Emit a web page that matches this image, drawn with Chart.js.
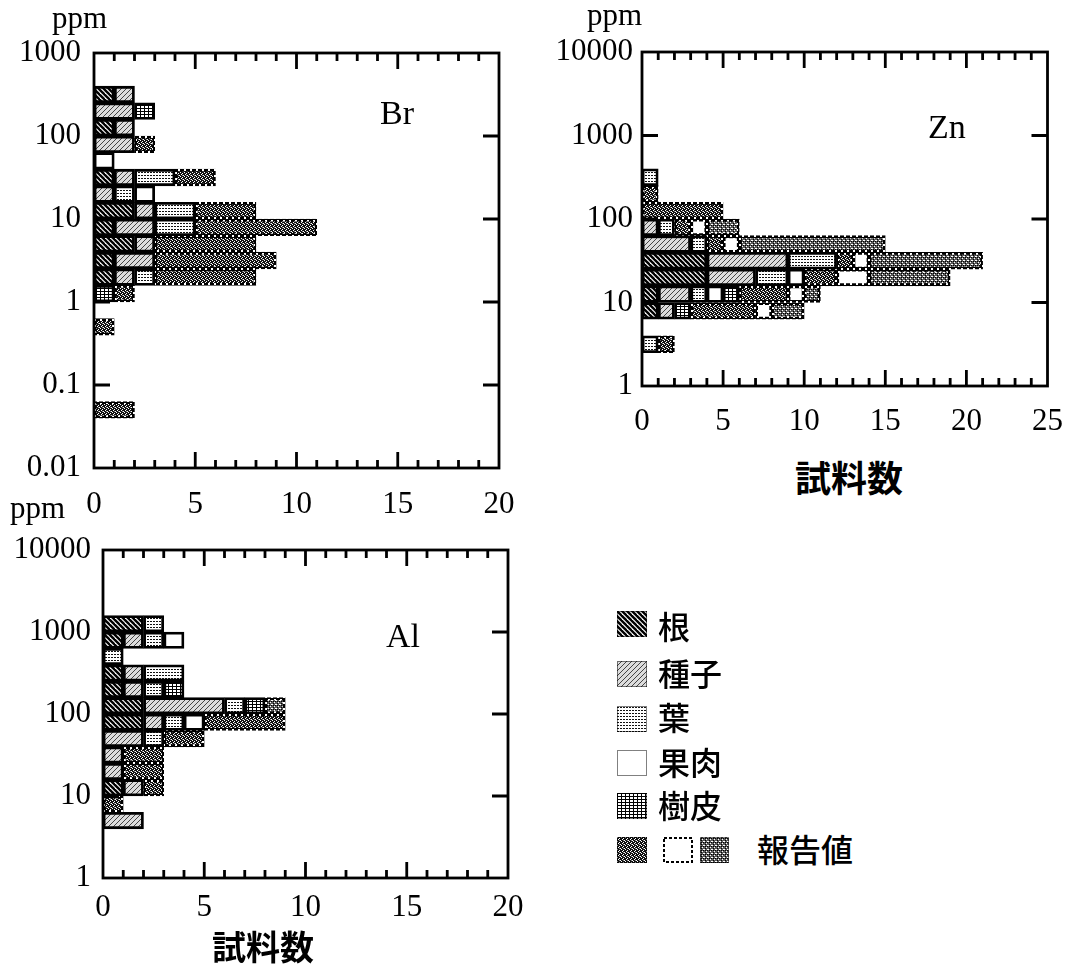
<!DOCTYPE html>
<html>
<head>
<meta charset="utf-8">
<script src="https://cdn.jsdelivr.net/npm/chart.js@4.4.1/dist/chart.umd.min.js"></script>
<style>
  html, body { margin: 0; padding: 0; background: #fff; }
  body { width: 1080px; height: 969px; position: relative; overflow: hidden; }
  canvas { position: absolute; }
  .t { position: absolute; line-height: 1; white-space: nowrap; color: #000; }
  .serif { font-family: "Liberation Serif", "Times New Roman", serif; }
  .jp { font-family: "Noto Sans CJK JP", "Noto Sans CJK SC", sans-serif; }
</style>
</head>
<body>
<canvas id="brChart" width="540" height="530" style="left:0;top:0"></canvas>
<canvas id="znChart" width="540" height="440" style="left:540px;top:0"></canvas>
<canvas id="alChart" width="540" height="440" style="left:0;top:500px"></canvas>

<div class="t serif" style="left:52px;top:2px;font-size:31px">ppm</div>
<div class="t serif" style="left:587px;top:-1px;font-size:31px">ppm</div>
<div class="t serif" style="left:10px;top:492px;font-size:31px">ppm</div>
<div class="t serif" style="left:380px;top:96px;font-size:34px">Br</div>
<div class="t serif" style="left:928px;top:110px;font-size:34px">Zn</div>
<div class="t serif" style="left:386px;top:619px;font-size:34px">Al</div>
<div class="t jp" style="left:795px;top:458px;font-size:36px;font-weight:700">試料数</div>
<div class="t jp" style="left:212px;top:929px;font-size:34px;font-weight:700">試料数</div>

<script>
// kinds of sample, stacked left to right; the last three are the reported values
const kindNames = ["根", "種子", "葉", "果肉", "樹皮", "報告値", "報告値", "報告値"];
const legendLabels = ["根", "種子", "葉", "果肉", "樹皮", "報告値"];

// bin centres as log10(ppm), five bins per decade
const brBins = [2.5, 2.3, 2.1, 1.9, 1.7, 1.5, 1.3, 1.1, 0.9, 0.7, 0.5, 0.3, 0.1, -0.3, -1.3];
const brRoot = [1, 0, 1, 0, 0, 1, 0, 2, 1, 2, 1, 1, 0, 0, 0];
const brSeed = [1, 2, 1, 2, 0, 1, 1, 1, 2, 1, 2, 1, 0, 0, 0];
const brLeaf = [0, 0, 0, 0, 0, 2, 1, 2, 2, 0, 0, 1, 0, 0, 0];
const brPulp = [0, 0, 0, 0, 1, 0, 1, 0, 0, 0, 0, 0, 0, 0, 0];
const brBark = [0, 1, 0, 0, 0, 0, 0, 0, 0, 0, 0, 0, 1, 0, 0];
const brRepA = [0, 0, 0, 1, 0, 2, 0, 3, 6, 5, 6, 5, 1, 1, 2];
const brRepB = [0, 0, 0, 0, 0, 0, 0, 0, 0, 0, 0, 0, 0, 0, 0];
const brRepC = [0, 0, 0, 0, 0, 0, 0, 0, 0, 0, 0, 0, 0, 0, 0];
const brTickLabels = ["0.01", "0.1", "1", "10", "100", "1000"];

const znBins = [2.5, 2.3, 2.1, 1.9, 1.7, 1.5, 1.3, 1.1, 0.9, 0.5];
const znRoot = [0, 0, 0, 0, 0, 4, 4, 1, 1, 0];
const znSeed = [0, 0, 0, 1, 3, 5, 3, 2, 1, 0];
const znLeaf = [1, 0, 0, 1, 1, 3, 2, 1, 0, 1];
const znPulp = [0, 0, 0, 0, 0, 0, 1, 1, 0, 0];
const znBark = [0, 0, 0, 0, 0, 0, 0, 1, 1, 0];
const znRepA = [0, 1, 5, 1, 1, 1, 2, 3, 4, 1];
const znRepB = [0, 0, 0, 1, 1, 1, 2, 1, 1, 0];
const znRepC = [0, 0, 0, 2, 9, 7, 5, 1, 2, 0];
const znTickLabels = ["1", "10", "100", "1000", "10000"];

const alBins = [3.1, 2.9, 2.7, 2.5, 2.3, 2.1, 1.9, 1.7, 1.5, 1.3, 1.1, 0.9, 0.7];
const alRoot = [2, 1, 0, 1, 1, 2, 2, 0, 0, 0, 1, 0, 0];
const alSeed = [0, 1, 0, 1, 1, 4, 1, 2, 1, 1, 1, 0, 2];
const alLeaf = [1, 1, 1, 2, 1, 1, 1, 1, 0, 0, 0, 0, 0];
const alPulp = [0, 1, 0, 0, 0, 0, 1, 0, 0, 0, 0, 0, 0];
const alBark = [0, 0, 0, 0, 1, 1, 0, 0, 0, 0, 0, 0, 0];
const alRepA = [0, 0, 0, 0, 0, 0, 4, 2, 2, 2, 1, 1, 0];
const alRepB = [0, 0, 0, 0, 0, 0, 0, 0, 0, 0, 0, 0, 0];
const alRepC = [0, 0, 0, 0, 0, 1, 0, 0, 0, 0, 0, 0, 0];
const alTickLabels = ["1", "10", "100", "1000", "10000"];

// --- hatch patterns ---
const helper = document.createElement("canvas").getContext("2d");
function pattern(w, h, draw) {
  const c = document.createElement("canvas");
  c.width = w; c.height = h;
  draw(c.getContext("2d"), w, h);
  return helper.createPattern(c, "repeat");
}
function dots(g, color, pts) {
  g.fillStyle = color;
  pts.forEach(p => g.fillRect(p[0], p[1], 1, 1));
}

const rootFill = pattern(5, 5, (g, w, h) => {
  g.fillStyle = "#fff"; g.fillRect(0, 0, w, h);
  g.strokeStyle = "#000"; g.lineWidth = 2.4;
  for (let k = -1; k <= 1; k++) {
    g.beginPath(); g.moveTo(k * w - 1, -1); g.lineTo(k * w + w + 1, h + 1); g.stroke();
  }
});
const seedFill = pattern(5, 5, (g, w, h) => {
  g.fillStyle = "#dcdcdc"; g.fillRect(0, 0, w, h);
  g.strokeStyle = "#444"; g.lineWidth = 1;
  for (let k = -1; k <= 1; k++) {
    g.beginPath(); g.moveTo(k * w - 1, h + 1); g.lineTo(k * w + w + 1, -1); g.stroke();
  }
});
const leafFill = pattern(3, 3, (g, w, h) => {
  g.fillStyle = "#fff"; g.fillRect(0, 0, w, h);
  g.fillStyle = "#111"; g.fillRect(0, 1, 2, 1);
});
const barkFill = pattern(4, 3, (g, w, h) => {
  g.fillStyle = "#fff"; g.fillRect(0, 0, w, h);
  g.fillStyle = "#000"; g.fillRect(0, 0, w, 1); g.fillRect(0, 0, 1, h);
});
const repAFill = pattern(4, 4, (g, w, h) => {
  g.fillStyle = "#111"; g.fillRect(0, 0, w, h);
  dots(g, "#fff", [[0, 0], [2, 1], [1, 2], [3, 3]]);
  dots(g, "#888", [[2, 3]]);
});
const repCFill = pattern(4, 4, (g, w, h) => {
  g.fillStyle = "#5a5a5a"; g.fillRect(0, 0, w, h);
  dots(g, "#fff", [[0, 0], [2, 2], [3, 0]]);
  dots(g, "#000", [[1, 3], [3, 1], [1, 1]]);
});
// broken black edge for the reported values
const dashEdge = pattern(6, 6, (g, w, h) => {
  g.fillStyle = "#fff"; g.fillRect(0, 0, w, h);
  g.fillStyle = "#000"; g.fillRect(0, 0, 4, 4); g.fillRect(3, 3, 3, 3);
  g.fillRect(0, 3, 1, 3); g.fillRect(3, 0, 3, 1);
});

const fills = [rootFill, seedFill, leafFill, "#fff", barkFill, repAFill, "#fff", repCFill];
const edges = ["#000", "#000", "#000", "#000", "#000", dashEdge, dashEdge, dashEdge];

// frame with inward ticks on all four sides
const frameTicks = {
  id: "frameTicks",
  afterDatasetsDraw(chart) {
    const { ctx, chartArea: a, scales: { x, y } } = chart;
    ctx.save();
    ctx.strokeStyle = "#000";
    ctx.lineWidth = 2.8;
    ctx.beginPath();
    for (let v = x.min + 1; v < x.max; v++) {
      const px = x.getPixelForValue(v);
      const len = v % 5 === 0 ? 16 : 8;
      ctx.moveTo(px, a.top); ctx.lineTo(px, a.top + len);
      ctx.moveTo(px, a.bottom); ctx.lineTo(px, a.bottom - len);
    }
    for (let v = y.min + 1; v < y.max; v++) {
      const py = y.getPixelForValue(v);
      ctx.moveTo(a.left, py); ctx.lineTo(a.left + 16, py);
      ctx.moveTo(a.right, py); ctx.lineTo(a.right - 16, py);
    }
    ctx.stroke();
    ctx.strokeRect(a.left, a.top, a.right - a.left, a.bottom - a.top);
    ctx.restore();
  }
};

const tickFont = { family: "'Liberation Serif', 'Times New Roman', serif", size: 31 };

function panel(id, bins, series, xMax, yMin, yMax, tickLabels, area, pad) {
  const canvas = document.getElementById(id);
  const W = canvas.width, H = canvas.height;
  const datasets = series.map((counts, i) => ({
    label: kindNames[i],
    data: bins.map((b, j) => ({ x: counts[j], y: b })).filter(p => p.x > 0),
    backgroundColor: fills[i],
    borderColor: edges[i],
    borderWidth: 2.8,
    borderSkipped: false,
    barPercentage: 1,
    categoryPercentage: 1,
    stack: "all"
  }));
  return new Chart(canvas, {
    type: "bar",
    data: { datasets: datasets },
    options: {
      indexAxis: "y",
      responsive: false,
      animation: false,
      devicePixelRatio: 1,
      layout: { padding: { top: area.top, right: W - area.right, bottom: 0, left: 0 } },
      plugins: { legend: { display: false }, tooltip: { enabled: false } },
      scales: {
        x: {
          type: "linear", min: 0, max: xMax, stacked: true,
          grid: { display: false, drawTicks: false }, border: { display: false },
          ticks: { stepSize: 5, padding: pad.x, color: "#000", font: tickFont, maxRotation: 0, autoSkip: false },
          afterFit: s => { s.height = H - area.bottom; }
        },
        y: {
          type: "linear", min: yMin, max: yMax, stacked: true, offset: false,
          grid: { display: false, drawTicks: false }, border: { display: false },
          ticks: { stepSize: 1, padding: pad.y, color: "#000", font: tickFont, callback: v => tickLabels[v - yMin] },
          afterFit: s => { s.width = area.left; }
        }
      }
    },
    plugins: [frameTicks]
  });
}

panel("brChart", brBins, [brRoot, brSeed, brLeaf, brPulp, brBark, brRepA, brRepB, brRepC],
  20, -2, 3, brTickLabels, { left: 94, top: 53, right: 499, bottom: 468 }, { x: 18, y: 13 });
panel("znChart", znBins, [znRoot, znSeed, znLeaf, znPulp, znBark, znRepA, znRepB, znRepC],
  25, 0, 4, znTickLabels, { left: 102, top: 52, right: 520, bottom: 386 }, { x: 17, y: 9 });
panel("alChart", alBins, [alRoot, alSeed, alLeaf, alPulp, alBark, alRepA, alRepB, alRepC],
  20, 0, 4, alTickLabels, { left: 103, top: 50, right: 508, bottom: 378 }, { x: 11, y: 12 });

// legend at the lower right
function swatch(left, top, w, h, fill, dashed) {
  const c = document.createElement("canvas");
  c.width = w; c.height = h;
  c.style.left = left + "px"; c.style.top = top + "px";
  const g = c.getContext("2d");
  g.fillStyle = fill; g.fillRect(0, 0, w, h);
  g.strokeStyle = "#000";
  g.lineWidth = dashed ? 2 : 1;
  g.setLineDash(dashed ? [3, 2] : [1, 1]);
  g.strokeRect(dashed ? 1 : 0.5, dashed ? 1 : 0.5, w - (dashed ? 2 : 1), h - (dashed ? 2 : 1));
  document.body.appendChild(c);
}
function legendText(text, left, top) {
  const d = document.createElement("div");
  d.className = "t jp";
  d.style.cssText = `left:${left}px;top:${top}px;font-size:32px;font-weight:500`;
  d.textContent = text;
  document.body.appendChild(d);
}
const legendRows = [624, 674, 719, 763, 806, 850];
const legendTextTops = [609, 656, 700, 745, 788, 832];
for (let i = 0; i < 5; i++) {
  swatch(617, legendRows[i] - 13, 30, 26, fills[i], false);
  legendText(legendLabels[i], 658, legendTextTops[i]);
}
swatch(617, legendRows[5] - 13, 30, 26, repAFill, false);
swatch(663, legendRows[5] - 13, 30, 26, "#fff", true);
swatch(700, legendRows[5] - 13, 29, 26, repCFill, false);
legendText(legendLabels[5], 757, legendTextTops[5]);
</script>
</body>
</html>
